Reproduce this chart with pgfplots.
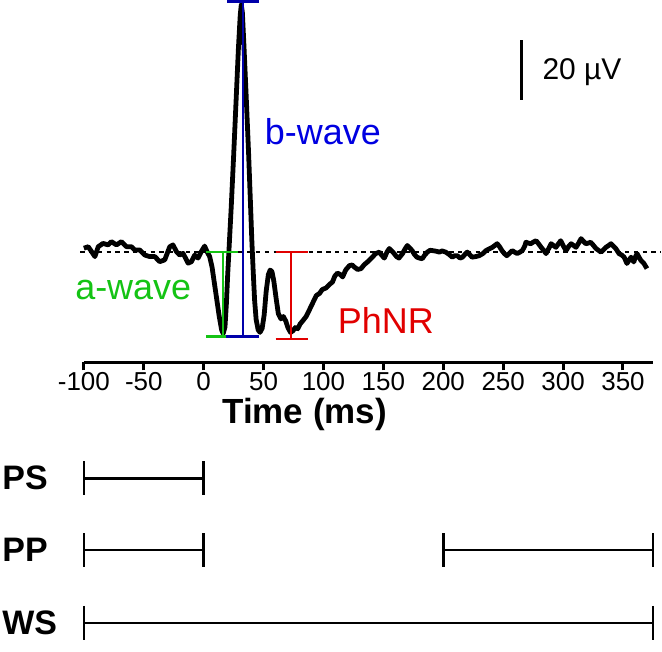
\documentclass[border=0pt]{standalone}
\usepackage{fontspec}
\setmainfont{Liberation Sans}
\usepackage{pgfplots}
\pgfplotsset{compat=1.18}
\definecolor{agreen}{RGB}{20,195,20}
\definecolor{bblue}{RGB}{0,0,225}
\definecolor{bnavy}{RGB}{0,0,170}
\definecolor{pred}{RGB}{225,0,0}

\begin{document}
\begin{tikzpicture}
\begin{axis}[
    x=0.6pt, y=1.5pt,
    xmin=-100, xmax=375, ymin=-36.8, ymax=84.2,
    clip=false,
    hide y axis,
    axis x line*=bottom,
    axis line style={line width=1.5pt},
    xtick={-100,-50,...,350},
    tick align=outside,
    major tick length=4pt,
    every tick/.style={black, line width=1.5pt},
    xticklabel style={font=\fontsize{13}{15}\selectfont, yshift=2.5pt},
    /pgf/number format/assume math mode=true,
    xlabel={Time (ms)},
    xlabel style={font=\fontsize{17.5}{20}\selectfont\bfseries,
        at={(axis description cs:0.388,-0.168)}, anchor=base},
    unbounded coords=jump,
]
% room round the picture
\path (axis cs:-170,-133.2) rectangle (axis cs:381.7,84.17);

% baseline
\addplot[black, line width=0.7pt, dash pattern=on 2.2pt off 2.2pt] coordinates {(-103,0) (382,0)};

% ERG trace
\addplot[black, line width=2.4pt, line join=round] table {
-100 1.3
-96.4 1.8
-93.6 0.2
-90.8 -1.5
-88 1.8
-84 2.9
-79.7 2.4
-77 3.5
-72.8 2.4
-68.6 3.5
-64.4 1.8
-60.2 1.8
-57.5 0.7
-53.3 0.7
-49 -1
-45 -1.5
-40.8 -1.5
-36.7 -3.2
-32.5 -2.6
-28.3 1.8
-25.6 2.4
-22.8 0.2
-20 -1
-17.2 -0.4
-13 -3.7
-10.2 -3.2
-7.5 -1
-4.7 -2
-1.9 0.2
0.8 2
3 0
5 -1.5
7 -5
9 -10.5
11 -16
13 -21.5
15 -26
16.3 -27.2
17.8 -25
19 -17
20 -8
21.3 2
23 15
25 32
27 50
29 68
30.5 79
31.4 82.6
32.3 80
33.5 70
35.5 52
37.5 33
39 17
40.2 4
41.3 -6
42.5 -16
43.8 -22.5
45.5 -26
47 -26.8
48.8 -25.5
50.5 -21
52.2 -13
54 -7.5
55.5 -6
57 -6.5
58.5 -9.5
60.5 -15.5
62.3 -20.5
64.5 -22.3
66.5 -21.5
68.5 -23
70.3 -25.2
72.5 -26.8
74.5 -26.3
76.5 -25.2
78.5 -25.6
80.5 -24
83 -22.8
85.5 -21.5
88 -19.5
91 -17
94 -14.5
96.7 -13.8
99 -12.5
102 -12
105 -10.8
107.5 -10
109.5 -8
111.7 -7
114 -7.5
116 -8.3
118.5 -6
121.7 -4.5
124 -4.3
125.8 -5
128.5 -5.8
131.4 -5.5
134 -4.2
136.7 -3.3
140.8 -1.7
143.5 -0.5
146.7 0
148.5 -1
150.8 -2
153 0
155 1.2
157 0.4
159 -0.5
161 -1.5
163 -2
166 -0.5
168 1
170 2.2
172 1.4
174 0.5
176 -0.8
178 -1.7
180 -2
182.5 -2.2
184.5 -1
186.7 0
189 0.6
191 0.5
194 0.3
196.7 0
199 0.4
202 0
205 -0.8
207.5 -1.7
209.5 -1.2
211.7 -1.2
214 -2
216 -1.7
218 -0.8
220 0
222 -0.8
224 -1.7
227 -1.5
230 -1.2
233 -0.5
235.6 0.5
238 1
241 1.6
243 2.2
245 2.8
247 1.8
249 0.5
251 -0.5
253 -1.2
255 -0.5
257.5 0.5
259.5 0
261.7 -0.5
264 0
266 0.5
268 2
269 3.3
271 3
273 2.8
275 3.3
277.5 3.8
279.5 2.8
281.7 1.6
284 0.5
285.8 -0.5
288 1.2
290 2.8
292 2.2
294 1.6
296 2.7
298 3.8
300 2.2
302.5 0.5
304.5 1.8
306.7 2.8
308.8 2.2
310.8 1.6
313 3
315 4.5
317 3.6
319 2.8
321 3
323 3.3
325 2.4
327.5 1.2
329.5 0.6
331.7 0
333.8 0.8
335.8 1.6
338 2.2
340 2.8
342 2
344 1.2
346.7 -0.5
349 -1
351 -1.7
353.3 -3.8
355 -2.8
356.7 -1.7
358 -2.5
359 -3.3
360.5 -1.5
361.7 -0.5
363.5 -1.8
365 -2.8
367.5 -3.8
370 -5.5
};

% a-wave bracket
\addplot[agreen, line width=1.3pt] coordinates {(2.3,0) (28.3,0) (nan,nan) (16,0) (16,-28.2) (nan,nan) (2.3,-28.2) (19,-28.2)};
% b-wave bracket
\addplot[bnavy, line width=1.3pt] coordinates {(19,-28.2) (46,-28.2) (nan,nan) (32.8,-28.2) (32.8,83.6) (nan,nan) (19.5,83.6) (46,83.6)};
% PhNR bracket
\addplot[pred, line width=1.3pt] coordinates {(60,0) (87,0) (nan,nan) (73,0) (73,-29) (nan,nan) (60,-29) (87,-29)};

% scale bar
\addplot[black, line width=1.6pt] coordinates {(265.6,50.8) (265.6,70.8)};

\node[anchor=base west, font=\fontsize{18}{20}\selectfont, text=agreen, inner sep=0pt] at (axis cs:-107.5,-15.8) {a-wave};
\node[anchor=base west, font=\fontsize{18}{20}\selectfont, text=bblue, inner sep=0pt] at (axis cs:50.8,35.8) {b-wave};
\node[anchor=base west, font=\fontsize{18}{20}\selectfont, text=pred, inner sep=0pt] at (axis cs:111.7,-27.2) {PhNR};
\node[anchor=base west, font=\fontsize{15}{18}\selectfont, inner sep=0pt] at (axis cs:282.5,57.5) {20 µV};

% recording windows
\addplot[black, line width=1.3pt, mark=|, mark size=8.5pt, mark options={line width=1.3pt}] coordinates {(-100,-75.5) (0,-75.5)};
\addplot[black, line width=1.3pt, mark=|, mark size=8.5pt, mark options={line width=1.3pt}] coordinates {(-100,-99.5) (0,-99.5)};
\addplot[black, line width=1.3pt, mark=|, mark size=8.5pt, mark options={line width=1.3pt}] coordinates {(200,-99.5) (375,-99.5)};
\addplot[black, line width=1.3pt, mark=|, mark size=8.5pt, mark options={line width=1.3pt}] coordinates {(-100,-123.8) (375,-123.8)};

\node[anchor=west, font=\fontsize{17}{20}\selectfont\bfseries, inner sep=0pt] at (axis cs:-168.3,-75.5) {PS};
\node[anchor=west, font=\fontsize{17}{20}\selectfont\bfseries, inner sep=0pt] at (axis cs:-168.3,-99.5) {PP};
\node[anchor=west, font=\fontsize{17}{20}\selectfont\bfseries, inner sep=0pt] at (axis cs:-168.3,-123.8) {WS};
\end{axis}
\end{tikzpicture}
\end{document}
